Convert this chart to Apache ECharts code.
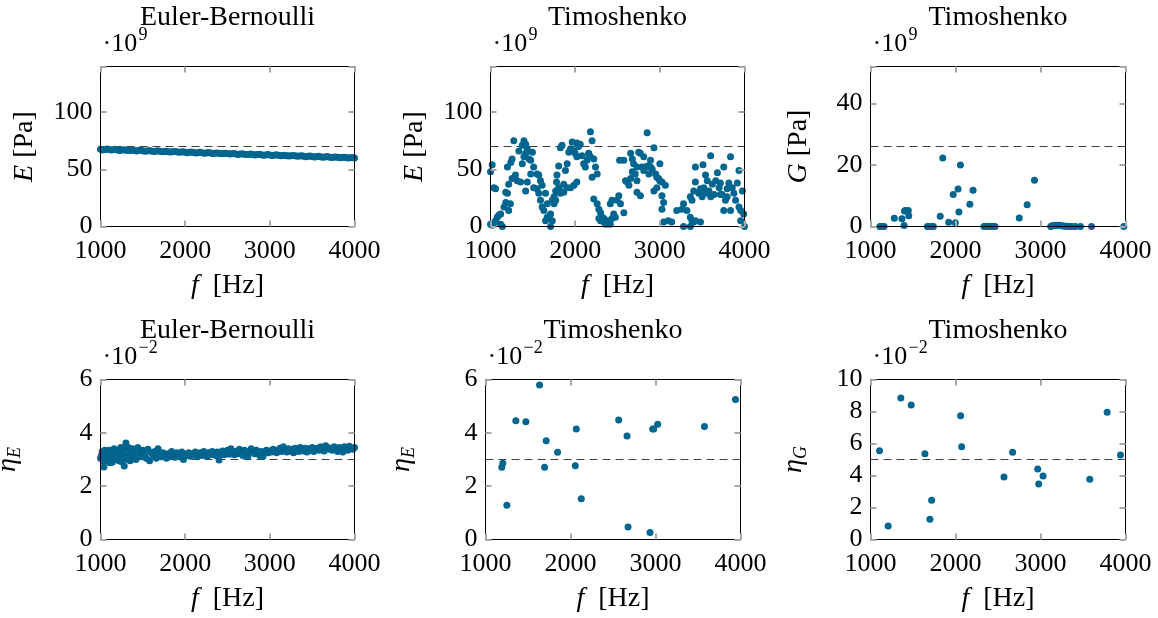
<!DOCTYPE html>
<html><head><meta charset="utf-8">
<script src="https://cdn.jsdelivr.net/npm/echarts@6/dist/echarts.min.js"></script>
<style>html,body{margin:0;padding:0;background:#fff}#c{width:1158px;height:618px}</style>
</head><body><div id="c"></div><script>
// ---------- data ----------
const fRange = [1000, 4000];
const xTicks = [1000, 2000, 3000, 4000];
const panelTitles = ['Euler-Bernoulli', 'Timoshenko', 'Timoshenko', 'Euler-Bernoulli', 'Timoshenko', 'Timoshenko'];
const yAxisNames = ['{i|E} [Pa]', '{i|E} [Pa]', '{i|G} [Pa]', '{e|η}{s|E}', '{e|η}{s|E}', '{e|η}{s|G}'];
const xAxisName = '{i|f}  [Hz]';
const yMin = [0, 0, 0, 0, 0, 0];
const yMax = [140, 140, 52, 6, 6, 10];
const yStep = [50, 50, 20, 2, 2, 2];
const exponents = ['9', '9', '9', '−2', '−2', '−2'];
const refLines = [70, 70, 26, 3, 3, 5];

// E [1e9 Pa], Euler-Bernoulli
const ebE = [[1000,67.5],[1050,67.4],[1100,67.3],[1150,67.1],[1200,67.0],[1250,66.9],[1300,66.8],[1350,66.6],[1400,66.5],[1450,66.4],[1500,66.3],[1550,66.1],[1600,66.0],[1650,65.9],[1700,65.8],[1750,65.6],[1800,65.5],[1850,65.4],[1900,65.3],[1950,65.1],[2000,65.0],[2050,64.9],[2100,64.8],[2150,64.6],[2200,64.5],[2250,64.4],[2300,64.3],[2350,64.1],[2400,64.0],[2450,63.9],[2500,63.8],[2550,63.6],[2600,63.5],[2650,63.4],[2700,63.3],[2750,63.1],[2800,63.0],[2850,62.9],[2900,62.8],[2950,62.6],[3000,62.5],[3050,62.4],[3100,62.3],[3150,62.1],[3200,62.0],[3250,61.9],[3300,61.8],[3350,61.6],[3400,61.5],[3450,61.4],[3500,61.3],[3550,61.1],[3600,61.0],[3650,60.9],[3700,60.8],[3750,60.6],[3800,60.5],[3850,60.4],[3900,60.3],[3950,60.1],[4000,60.0],
[1025,67.0],[1075,67.8],[1125,66.9],[1175,67.5],[1225,66.6],[1275,67.2],[1325,66.4],[1375,67.0],[1425,66.1],[1475,66.7],[1525,65.9],[1575,66.4],[1625,65.6],[1675,66.2],[1725,65.4],[1775,65.9],[1825,65.1],[1875,65.7],[1925,64.9],[1975,65.4],[2025,64.6],[2075,65.2],[2125,64.4],[2175,64.9],[2225,64.1],[2275,64.7],[2325,63.9],[2375,64.4],[2425,63.6],[2475,64.2],[2525,63.4],[2575,63.9],[2625,63.1],[2675,63.7],[2725,62.9],[2775,63.4],[2825,62.6],[2875,63.2],[2925,62.4],[2975,62.9],[3025,62.1],[3075,62.7],[3125,61.9],[3175,62.4],[3225,61.6],[3275,62.2],[3325,61.4],[3375,61.9],[3425,61.1],[3475,61.7],[3525,60.9],[3575,61.4],[3625,60.6],[3675,61.2],[3725,60.4],[3775,60.9],[3825,60.1],[3875,60.7],[3925,59.9],[3975,60.4]];

// E [1e9 Pa], Timoshenko
const timoE = [[1000,48],[1020,54],[1040,34],[1060,33],[1000,2],[1020,1],[1040,3],[1060,5],[1080,8],[1100,10],[1120,2],[1140,0],
[1120,11],[1160,17],[1180,21],[1200,29],[1180,30],[1215,14],[1235,20],
[1200,52],[1240,56],[1255,59],[1275,75],[1215,37],[1255,42],[1295,45],[1315,40],[1355,39],
[1335,66],[1375,71],[1395,75],[1415,72],[1435,68],[1375,55],[1395,61],[1415,64],[1455,59],[1475,58],[1495,65],[1510,52],[1475,46],[1435,39],[1415,31],
[1510,34],[1550,33],[1570,29],[1590,23],[1610,17],[1630,14],[1570,45],[1550,46],[1590,40],[1610,36],[1650,29],[1670,20],
[1650,5],[1670,8],[1710,11],[1730,5],[1710,0],[1690,7],
[1730,23],[1750,26],[1770,31],[1780,39],[1785,45],[1805,53],[1825,69],[1845,71],[1805,34],[1825,31],[1865,37],[1905,34],[1885,49],[1905,55],[1925,65],[1945,68],[1965,74],[1985,66],[2000,64],[2020,61],[2020,73],[2040,70],[2060,72],[2080,62],[2100,55],[2120,52],[2140,58],[2160,64],[2180,83],[2200,75],[2180,61],[2220,59],[2240,52],[2260,46],[2200,43],[2160,63],
[1945,34],[1985,36],[2020,39],[1865,30],[1825,29],[1770,23],[1750,20],
[2220,24],[2260,20],[2280,15],[2300,12],[2320,8],[2340,4],[2360,2],[2375,5],[2395,4],[2415,2],[2435,7],[2455,11],[2475,8],[2415,20],[2435,23],[2495,23],[2515,27],[2535,20],[2575,12],[2280,7],[2300,5],[2340,7],
[2525,58],[2575,58],[2595,40],[2615,39],[2635,36],[2655,42],[2655,64],[2675,59],[2690,55],[2710,46],[2730,40],[2750,65],[2730,30],[2770,27],[2790,52],[2810,49],[2830,52],[2850,82],[2855,53],[2870,46],[2890,58],[2910,50],[2930,69],[2950,46],[2965,43],[2985,42],[3000,40],[3025,39],[3065,36],[2965,34],[2930,31],[3000,55],[2890,52],[2810,61],[2770,64],[2730,52],[2675,48],
[3025,27],[3045,21],[3025,15],[3045,4],[3100,5],[3140,4],[3200,14],[3260,15],[3280,20],[3280,0],[3320,14],[3360,8],[3360,0],[3380,5],[3400,4],[3420,5],[3480,4],
[3360,26],[3380,23],[3400,31],[3420,39],[3420,52],[3460,29],[3480,33],[3520,34],[3510,54],[3540,45],[3560,40],[3580,31],[3600,62],[3600,26],[3620,37],[3640,28],[3660,40],[3680,47],[3700,34],[3715,38],[3735,28],[3755,52],[3755,14],[3775,23],[3795,33],[3815,38],[3835,61],[3835,14],[3855,34],[3875,29],[3895,23],[3915,38],[3935,49],[3935,17],[3955,14],[3955,5],[3975,31],[3990,11],[4000,0],[3540,29],[3500,26],[3715,28],[3795,26]];

// G [1e9 Pa], Timoshenko
const timoG = [[1110,0],[1125,0],[1140,0],[1160,0],[1280,2.7],[1370,2.5],[1395,0.3],[1400,5],[1412,5.2],[1445,5.2],[1450,3.5],[1670,0],[1685,0],[1700,0],[1720,0],[1740,0],[1820,3.3],[1850,22.3],[1920,1.4],[1973,10.4],[1998,1.2],[2030,12.2],[2040,4.7],[2058,20],[2169,7.2],[2207,11.8],[2335,0],[2355,0],[2375,0],[2395,0],[2415,0],[2440,0],[2465,0],[2750,2.8],[2843,7.1],[2929,15],[3120,0],[3135,0.2],[3150,0.3],[3165,0.3],[3180,0.3],[3200,0.4],[3220,0.4],[3240,0.3],[3260,0.2],[3285,0.1],[3310,0.1],[3340,0],[3370,0],[3410,0],[3470,0],[3600,0],[3980,0]];

// eta_E [1e-2], Euler-Bernoulli
const ebEta = [[1000,3.05],[1010,3.15],[1020,3.30],[1030,2.95],[1040,2.72],[1050,3.35],[1060,3.20],[1070,3.00],[1080,2.95],[1090,3.25],[1100,3.35],[1110,2.88],[1120,3.10],[1130,3.30],[1140,2.90],[1150,3.15],[1160,3.40],[1170,3.00],[1180,3.05],[1190,3.35],[1200,3.25],[1210,3.10],[1220,2.95],[1230,3.30],[1240,3.45],[1250,2.92],[1260,3.15],[1270,3.40],[1280,2.76],[1290,3.15],[1300,3.62],[1310,3.05],[1320,3.00],[1330,3.45],[1340,3.30],[1350,2.95],[1360,3.10],[1370,3.25],[1380,3.40],[1400,3.20],[1420,3.00],[1440,3.45],[1460,3.25],[1480,3.10],[1500,3.35],[1520,3.20],[1540,3.05],[1560,3.38],[1580,2.95],[1600,3.25],[1620,3.15],[1640,3.30],[1660,3.05],[1680,3.40],[1700,3.20],[1720,3.10],[1740,3.25],[1760,3.15],[1780,3.05],[1800,3.22],[1820,3.12],[1840,3.30],[1860,3.15],[1880,3.08],[1900,3.25],[1920,3.18],[1940,3.10],[1960,3.28],[1980,3.00],[2000,3.20],[2020,3.15],[2040,3.25],[2060,3.12],[2080,3.22],[2100,3.18],[2120,3.28],[2140,3.10],[2160,3.20],[2180,3.25],[2200,3.15],[2220,3.30],[2240,3.20],[2260,3.12],[2280,3.25],[2300,3.18],[2320,3.30],[2340,3.22],[2360,3.15],[2380,3.28],[2400,2.98],[2420,3.20],[2440,3.32],[2460,3.18],[2480,3.25],[2500,3.35],[2520,3.20],[2540,3.40],[2560,3.25],[2580,3.18],[2600,3.30],[2620,3.22],[2640,3.38],[2660,3.28],[2680,3.15],[2700,3.35],[2720,3.25],[2740,3.10],[2760,3.30],[2780,3.40],[2800,3.28],[2820,3.22],[2840,3.35],[2860,3.25],[2880,3.15],[2900,3.30],[2920,3.12],[2940,3.28],[2960,3.35],[2980,3.25],[3000,3.32],[3020,3.28],[3040,3.38],[3060,3.30],[3080,3.25],[3100,3.35],[3120,3.42],[3140,3.30],[3160,3.48],[3180,3.35],[3200,3.28],[3220,3.40],[3240,3.32],[3260,3.38],[3280,3.25],[3300,3.42],[3320,3.35],[3340,3.30],[3360,3.45],[3380,3.38],[3400,3.32],[3420,3.42],[3440,3.28],[3460,3.40],[3480,3.35],[3500,3.45],[3520,3.30],[3540,3.38],[3560,3.42],[3580,3.35],[3600,3.48],[3620,3.40],[3640,3.32],[3660,3.52],[3680,3.45],[3700,3.38],[3720,3.42],[3740,3.35],[3760,3.48],[3780,3.40],[3800,3.30],[3820,3.45],[3840,3.38],[3860,3.28],[3880,3.48],[3900,3.40],[3920,3.35],[3940,3.50],[3960,3.42],[3980,3.38],[4000,3.45]];

// eta_E [1e-2], Timoshenko
const timoEtaE = [[1192,2.71],[1204,2.86],[1251,1.28],[1357,4.45],[1475,4.42],[1636,5.79],[1695,2.71],[1714,3.70],[1848,3.27],[2056,2.77],[2068,4.14],[2127,1.53],[2567,4.48],[2665,3.88],[2677,0.47],[2936,0.26],[2967,4.14],[2979,4.14],[3026,4.32],[3576,4.24],[3941,5.25]];

// eta_G [1e-2], Timoshenko
const timoEtaG = [[1106,5.55],[1208,0.85],[1357,8.84],[1479,8.40],[1640,5.36],[1699,1.27],[1719,2.45],[2060,7.73],[2072,5.80],[2570,3.91],[2672,5.45],[2967,4.41],[2979,3.47],[3030,3.97],[3580,3.76],[3784,7.96],[3941,5.28]];

const panelData = [ebE, timoE, timoG, ebEta, timoEtaE, timoEtaG];

// ---------- layout / style ----------
const FONT = "'Liberation Serif', 'DejaVu Serif', serif";
const MARK = '#00658f';
const TICK = '#a8a8a8';
const grids = [
  {left: 100.5, top: 66.5, width: 254, height: 160},
  {left: 490.5, top: 66.5, width: 254, height: 160},
  {left: 870.5, top: 66.5, width: 255, height: 160},
  {left: 100.5, top: 379.5, width: 254, height: 160},
  {left: 485.5, top: 379.5, width: 255, height: 160},
  {left: 870.5, top: 379.5, width: 255, height: 160}
];
const yNameGap = [62, 62, 58, 76, 67, 60];

const nameRich = {
  i: {fontFamily: FONT, fontSize: 28, fontStyle: 'italic', color: '#000', verticalAlign: 'bottom'},
  e: {fontFamily: FONT, fontSize: 28, fontStyle: 'italic', color: '#000', verticalAlign: 'bottom', padding: [0, 0, 3, 0]},
  s: {fontFamily: FONT, fontSize: 18, fontStyle: 'italic', color: '#000', verticalAlign: 'bottom'}
};

const option = {
  animation: false,
  backgroundColor: '#fff',
  grid: [], xAxis: [], yAxis: [], series: [], graphic: []
};

grids.forEach((g, i) => {
  option.grid.push(Object.assign({show: true, borderColor: '#000', borderWidth: 1, backgroundColor: 'transparent',
    containLabel: false, outerBoundsMode: 'none', z: 5}, g));
  const tick = {show: true, inside: true, length: 6, lineStyle: {color: TICK, width: 2}};
  const line = {show: true, onZero: false, lineStyle: {color: '#000', width: 1}};
  const xBase = {type: 'value', gridIndex: i, min: fRange[0], max: fRange[1], interval: 1000,
    axisLine: line, axisTick: tick, splitLine: {show: false}, z: 6};
  option.xAxis.push(Object.assign({}, xBase, {
    position: 'bottom',
    axisLabel: {fontFamily: FONT, fontSize: 26, color: '#000', margin: 12,
      formatter: v => (xTicks.indexOf(v) >= 0 ? String(v) : '')},
    name: xAxisName, nameLocation: 'middle', nameGap: 45,
    nameTextStyle: {fontFamily: FONT, fontSize: 28, color: '#000', rich: nameRich}
  }));
  option.xAxis.push(Object.assign({}, xBase, {position: 'top', axisLabel: {show: false}}));
  const yBase = {type: 'value', gridIndex: i, min: yMin[i], max: yMax[i], interval: yStep[i],
    axisLine: line, axisTick: tick, splitLine: {show: false}, z: 6};
  option.yAxis.push(Object.assign({}, yBase, {
    position: 'left',
    axisLabel: {fontFamily: FONT, fontSize: 26, color: '#000', margin: 8,
      formatter: v => (Math.abs(v / yStep[i] - Math.round(v / yStep[i])) < 1e-9 ? String(v) : '')},
    name: yAxisNames[i], nameLocation: 'middle', nameRotate: 90, nameGap: yNameGap[i],
    nameTextStyle: {fontFamily: FONT, fontSize: 28, color: '#000', rich: nameRich}
  }));
  option.yAxis.push(Object.assign({}, yBase, {position: 'right', axisLabel: {show: false}}));

  option.series.push({
    type: 'line', xAxisIndex: 2 * i, yAxisIndex: 2 * i, silent: true, z: 1,
    symbol: 'none', data: [[fRange[0], refLines[i]], [fRange[1], refLines[i]]],
    lineStyle: {color: '#404040', width: 1.1, type: [8, 5]}
  });
  option.series.push({
    type: 'scatter', xAxisIndex: 2 * i, yAxisIndex: 2 * i, z: 3,
    symbol: 'circle', symbolSize: 7, data: panelData[i],
    itemStyle: {color: MARK, opacity: 1}
  });

  const cx = g.left + g.width / 2;
  const top = g.top;
  option.graphic.push({type: 'text', x: cx, y: top - 49, silent: true,
    style: {text: panelTitles[i], fontFamily: FONT, fontSize: 28, fill: '#000', align: 'center', verticalAlign: 'middle'}});
  option.graphic.push({type: 'text', x: g.left + 2, y: top - 22, silent: true,
    style: {text: '·10', fontFamily: FONT, fontSize: 26, fill: '#000', align: 'left', verticalAlign: 'middle'}});
  option.graphic.push({type: 'text', x: g.left + 38, y: top - 31, silent: true,
    style: {text: exponents[i], fontFamily: FONT, fontSize: 18, fill: '#000', align: 'left', verticalAlign: 'middle'}});
});

const chart = echarts.init(document.getElementById('c'), null, {renderer: 'canvas'});
chart.setOption(option);
</script></body></html>
